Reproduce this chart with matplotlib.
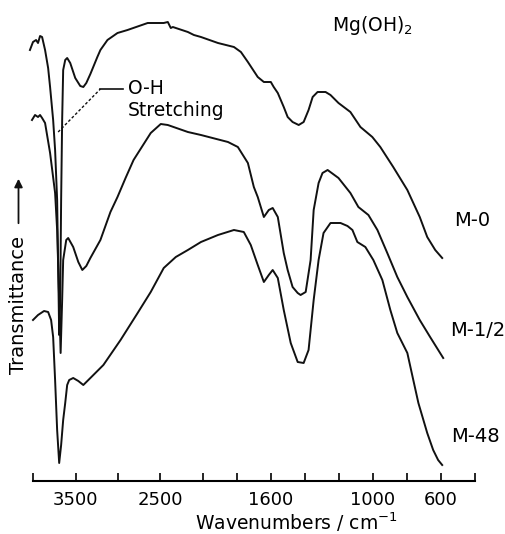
import numpy as np
import matplotlib
matplotlib.use("Agg")
import matplotlib.pyplot as plt

# IR spectra of Mg(OH)2 samples (transmittance in arbitrary units)
wn_m0 = [4036, 4000, 3964, 3941, 3917, 3893, 3858, 3822, 3799, 3763, 3740, 3716, 3698, 3692,
         3680, 3669, 3657, 3645, 3621, 3598, 3562, 3503, 3444, 3408, 3373, 3325, 3243, 3207,
         3124, 3006, 2888, 2651, 2462, 2414, 2379, 2355, 2178, 2107, 2024, 1912, 1818, 1777,
         1736, 1678, 1642, 1601, 1584, 1560, 1525, 1502, 1473, 1437, 1408, 1379, 1355, 1326,
         1279, 1250, 1203, 1133, 1074, 1004, 957, 881, 798, 725, 681, 634, 593]
tr_m0 = [431, 439, 441, 438, 445, 444, 431, 413, 394, 361, 331, 281, 181, 146,
         181, 281, 361, 411, 421, 423, 418, 403, 395, 394, 398, 407, 424, 431,
         441, 448, 451, 458, 458, 459, 453, 454, 449, 446, 444, 438, 434, 429,
         419, 404, 399, 399, 394, 388, 374, 364, 359, 356, 359, 371, 384, 389,
         389, 386, 378, 369, 354, 344, 334, 314, 291, 264, 244, 231, 223]

wn_m12 = [4012, 3976, 3941, 3917, 3893, 3858, 3799, 3740, 3716, 3692, 3675, 3657, 3645, 3609,
          3586, 3527, 3467, 3420, 3373, 3325, 3207, 3089, 3006, 2911, 2817, 2615, 2497, 2414,
          2178, 2024, 1853, 1795, 1736, 1701, 1678, 1642, 1613, 1590, 1560, 1525, 1502, 1473,
          1443, 1426, 1396, 1367, 1349, 1320, 1297, 1267, 1203, 1133, 1086, 1027, 974, 916,
          857, 798, 725, 664, 587]
tr_m12 = [361, 366, 364, 366, 363, 358, 328, 288, 251, 181, 128, 181, 221, 241,
          243, 234, 219, 211, 215, 223, 241, 269, 284, 303, 321, 348, 357, 356,
          349, 346, 339, 334, 318, 294, 284, 264, 271, 273, 264, 228, 211, 194,
          188, 186, 189, 221, 271, 298, 308, 311, 303, 288, 274, 266, 251, 228,
          204, 184, 161, 144, 123]

wn_m48 = [4000, 3941, 3870, 3822, 3787, 3763, 3740, 3716, 3692, 3669, 3645, 3621, 3598, 3574,
          3527, 3467, 3408, 3325, 3172, 2970, 2769, 2615, 2462, 2320, 2178, 2024, 1912, 1818,
          1760, 1719, 1678, 1642, 1613, 1590, 1560, 1525, 1484, 1443, 1408, 1379, 1349, 1320,
          1291, 1250, 1191, 1150, 1121, 1092, 1045, 998, 945, 898, 857, 798, 763, 733,
          681, 646, 617, 593]
tr_m48 = [161, 166, 170, 169, 161, 144, 101, 51, 18, 36, 61, 78, 96, 101,
          103, 100, 96, 103, 116, 141, 168, 189, 213, 224, 231, 239, 246, 251,
          249, 236, 216, 199, 206, 211, 203, 171, 138, 119, 118, 131, 181, 221,
          248, 258, 258, 255, 251, 239, 234, 221, 201, 171, 148, 128, 101, 78,
          48, 31, 21, 16]

tick_pos = [4000, 3500, 3000, 2500, 2000, 1800, 1600, 1400, 1200, 1000, 800, 600, 400]
tick_lbl = ["", "3500", "", "2500", "", "", "1600", "", "", "1000", "", "600", ""]


# scale change at 2000 cm-1 (double expansion below it), like the spectrometer chart paper
def fwd(w):
    w = np.asarray(w, dtype=float)
    return np.where(w >= 2000, (w - 2000) / 1000.0, (w - 2000) / 500.0)


def inv(u):
    u = np.asarray(u, dtype=float)
    return np.where(u >= 0, u * 1000.0 + 2000, u * 500.0 + 2000)


W, H = 505, 534
fig = plt.figure(figsize=(W / 100, H / 100), dpi=100)
ax = fig.add_axes([33 / W, 53 / H, 442 / W, 1 - 53 / H])
ax.set_xscale("function", functions=(fwd, inv))

for wn, tr in [(wn_m0, tr_m0), (wn_m12, tr_m12), (wn_m48, tr_m48)]:
    ax.plot(wn, tr, color="#111111", lw=1.4, clip_on=False)

ax.set_xlim(4000, 400)
ax.set_ylim(0, 481)

for s in ["left", "right", "top"]:
    ax.spines[s].set_visible(False)
ax.spines["bottom"].set_linewidth(1.5)
ax.set_yticks([])
ax.set_xticks(tick_pos)
ax.set_xticklabels(tick_lbl)
ax.tick_params(axis="x", direction="in", length=6, width=1.2, pad=7, labelsize=13)

# O-H stretching pointer
ax.plot([3704, 3207], [349, 392], color="#111111", lw=1.0, ls=(0, (2, 1.5)))
ax.plot([3207, 2947], [392, 392], color="#111111", lw=1.2)
ax.text(2888, 392, "O-H", fontsize=13.5, va="center", ha="left")
ax.text(2888, 370, "Stretching", fontsize=13.5, va="center", ha="left")

fig.text(332 / W, 1 - 31 / H, "Mg(OH)$_2$", fontsize=13.5, ha="left", va="baseline")
fig.text(472 / W, 1 - 221 / H, "M-0", fontsize=14, ha="center", va="center")
fig.text(478 / W, 1 - 330 / H, "M-1/2", fontsize=14, ha="center", va="center")
fig.text(475 / W, 1 - 437 / H, "M-48", fontsize=14, ha="center", va="center")

fig.text(296 / W, 1 - 522 / H, "Wavenumbers / cm$^{-1}$", fontsize=13.5, ha="center", va="center")
fig.text(18.5 / W, 1 - 305 / H, "Transmittance", fontsize=14, rotation=90, ha="center", va="center")
fig.add_artist(matplotlib.patches.FancyArrowPatch(
    (18.5 / W, 1 - 226 / H), (18.5 / W, 1 - 176 / H), transform=fig.transFigure,
    arrowstyle="-|>", mutation_scale=12, lw=1.3, color="#111111"))

fig.savefig("out.png", dpi=100)
